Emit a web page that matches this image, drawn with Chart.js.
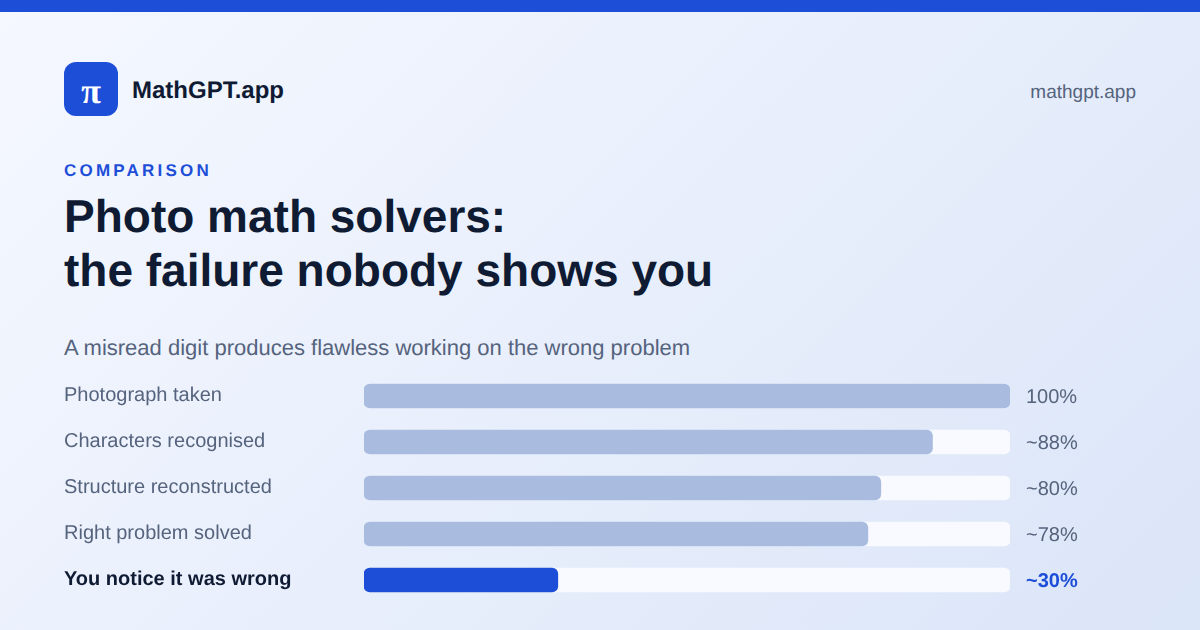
<!DOCTYPE html>
<html>
<head>
<meta charset="utf-8">
<title>Photo math solvers</title>
<script src="https://cdn.jsdelivr.net/npm/chart.js@4"></script>
<style>
    html, body { margin: 0; padding: 0; }
    body {
        position: relative;
        width: 1200px;
        height: 630px;
        overflow: hidden;
        font-family: "Liberation Sans", sans-serif;
        text-rendering: geometricPrecision;
        background: linear-gradient(135deg, #f5f8ff 0%, #dbe5f8 100%);
    }
    .topbar { position: absolute; left: 0; top: 0; width: 1200px; height: 12px; background: #1d4ed8; }
    .logo {
        position: absolute; left: 64px; top: 62px; width: 54px; height: 54px;
        border-radius: 12px; background: #1d4ed8; color: #fff;
        font: bold 36px/58px "Liberation Serif", serif; text-align: center;
    }
    .brand { position: absolute; left: 132px; top: 76px; font-size: 24px; line-height: 30px; font-weight: bold; color: #0f1b33; }
    .site { position: absolute; right: 64px; top: 81px; font-size: 19px; line-height: 24px; color: #55637d; }
    .kicker { position: absolute; left: 64px; top: 161px; font-size: 17px; line-height: 20px; font-weight: bold; letter-spacing: 3.2px; color: #1d4ed8; }
    h1 { position: absolute; left: 64px; top: 189px; margin: 0; font-size: 46px; line-height: 54px; font-weight: bold; color: #0f1b33; }
    .sub { position: absolute; left: 64px; top: 335px; font-size: 22px; line-height: 26px; color: #55637d; }
    .chart-box { position: absolute; left: 0; top: 361px; width: 1200px; height: 254px; }
</style>
</head>
<body>
<div class="topbar"></div>
<div class="logo">π</div>
<div class="brand">MathGPT.app</div>
<div class="site">mathgpt.app</div>
<div class="kicker">COMPARISON</div>
<h1>Photo math solvers:<br>the failure nobody shows you</h1>
<div class="sub">A misread digit produces flawless working on the wrong problem</div>
<div class="chart-box"><canvas id="chart"></canvas></div>

<script>
const categories = ['Photograph taken', 'Characters recognised', 'Structure reconstructed', 'Right problem solved', 'You notice it was wrong'];
const values = [100, 88, 80, 78, 30];
const valueLabels = ['100%', '~88%', '~80%', '~78%', '~30%'];
const trackValues = [100, 100, 100, 100, 100];

const BLUE = '#1d4ed8';
const MUTED_BAR = '#a9bcdf';
const TEXT = '#55637d';
const DARK = '#0f1b33';
const LAST = categories.length - 1;

// Unhinted text on the canvas, same as the page text
const textRenderingPlugin = {
    id: 'textRendering',
    beforeDraw(chart) {
        chart.ctx.textRendering = 'geometricPrecision';
    }
};

// Percent labels to the right of the bars
const valueLabelPlugin = {
    id: 'valueLabels',
    afterDatasetsDraw(chart) {
        const ctx = chart.ctx;
        const y = chart.scales.y;
        ctx.save();
        ctx.textAlign = 'left';
        ctx.textBaseline = 'middle';
        valueLabels.forEach((label, i) => {
            ctx.font = (i === LAST ? 'bold ' : '') + '20px "Liberation Sans"';
            ctx.fillStyle = i === LAST ? BLUE : TEXT;
            ctx.fillText(label, chart.chartArea.right + 16, y.getPixelForValue(i) + 1);
        });
        ctx.restore();
    }
};

new Chart(document.getElementById('chart'), {
    type: 'bar',
    data: {
        labels: categories,
        datasets: [
            {
                data: values,
                backgroundColor: values.map((v, i) => i === LAST ? BLUE : MUTED_BAR),
                borderRadius: 6,
                borderSkipped: false,
                barThickness: 24,
                order: 1
            },
            {
                data: trackValues,
                backgroundColor: '#f8faff',
                borderRadius: 6,
                borderSkipped: false,
                barThickness: 24,
                order: 2
            }
        ]
    },
    options: {
        indexAxis: 'y',
        responsive: true,
        maintainAspectRatio: false,
        animation: false,
        layout: { padding: { left: 64, right: 190, top: 0, bottom: 0 } },
        plugins: { legend: { display: false }, tooltip: { enabled: false } },
        scales: {
            x: { display: false, min: 0, max: 100, stacked: false },
            y: {
                stacked: true,
                afterFit(scale) { scale.width = 300; },
                grid: { display: false },
                border: { display: false },
                ticks: {
                    crossAlign: 'far',
                    padding: 0,
                    labelOffset: -1,
                    color: ctx => ctx.index === LAST ? DARK : TEXT,
                    font: ctx => ({
                        family: '"Liberation Sans"',
                        size: 20,
                        weight: ctx.index === LAST ? 'bold' : 'normal'
                    })
                }
            }
        }
    },
    plugins: [textRenderingPlugin, valueLabelPlugin]
});
</script>
</body>
</html>
